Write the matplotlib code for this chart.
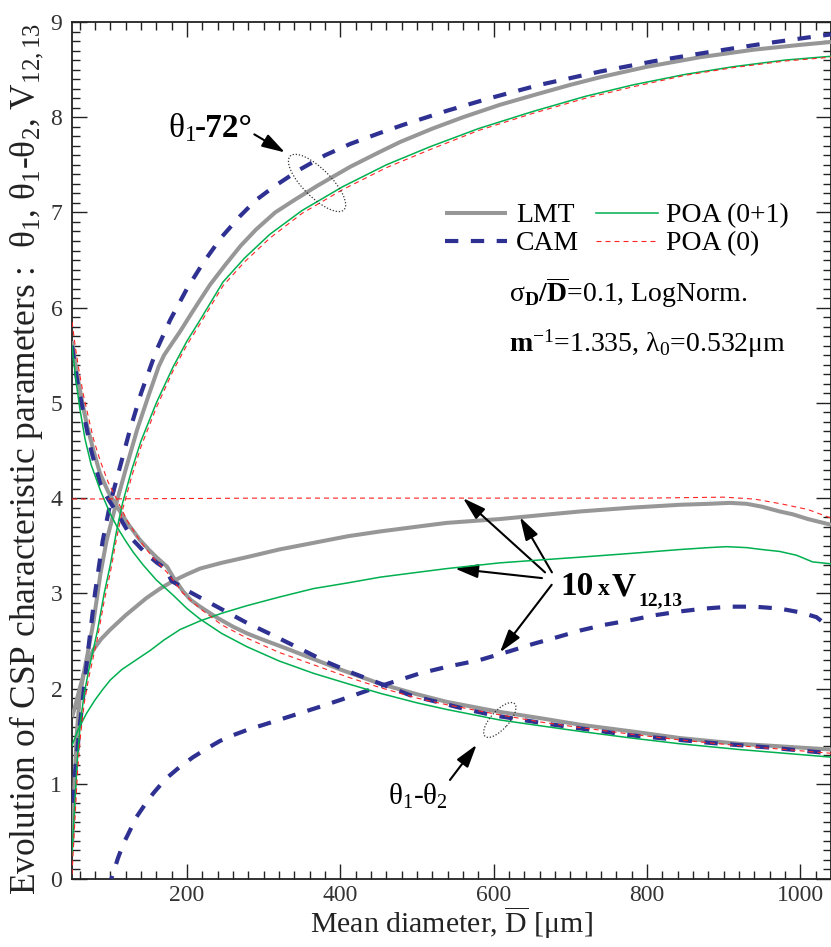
import numpy as np
import matplotlib
matplotlib.use('Agg')
import matplotlib.pyplot as plt
from matplotlib.patches import Ellipse
from matplotlib.transforms import IdentityTransform
from matplotlib.ticker import MultipleLocator

plt.rcParams['font.family'] = ['Liberation Serif', 'DejaVu Serif']
plt.rcParams['mathtext.fontset'] = 'custom'
plt.rcParams['mathtext.rm'] = 'Liberation Serif'
plt.rcParams['mathtext.it'] = 'Liberation Serif:italic'
plt.rcParams['mathtext.bf'] = 'Liberation Serif:bold'
plt.rcParams['mathtext.default'] = 'regular'

# ---------------- data ----------------
# theta_1 - 72 deg
lmt_t1_x = [50, 53, 56, 60, 65, 70, 78, 87, 95, 103, 109, 120, 135, 150, 163, 170, 180, 191, 205, 217, 230, 250, 270, 290, 315, 340, 370, 413, 450, 478, 520, 560, 608, 660, 700, 739, 800, 869, 940, 1000, 1040]
lmt_t1_y = [0.35, 0.95, 1.5, 1.9, 2.15, 2.35, 2.7, 3.2, 3.55, 3.8, 3.98, 4.3, 4.72, 5.08, 5.38, 5.5, 5.62, 5.75, 5.93, 6.08, 6.24, 6.45, 6.65, 6.82, 7.0, 7.13, 7.28, 7.48, 7.63, 7.74, 7.88, 8.0, 8.13, 8.25, 8.34, 8.42, 8.53, 8.63, 8.71, 8.76, 8.79]
cam_t1_x = [50, 55, 60, 65, 71, 80, 90, 100, 110, 125, 140, 160, 178, 200, 221, 245, 269, 290, 315, 347, 380, 413, 450, 482, 540, 595, 660, 739, 810, 878, 950, 1021, 1040]
cam_t1_y = [0.8, 1.2, 1.6, 1.95, 2.4, 3.0, 3.55, 3.95, 4.25, 4.7, 5.1, 5.55, 5.87, 6.2, 6.47, 6.74, 6.96, 7.13, 7.28, 7.45, 7.6, 7.72, 7.83, 7.92, 8.07, 8.2, 8.34, 8.48, 8.59, 8.68, 8.77, 8.85, 8.87]
poa1_t1_x = [50, 53, 57, 61, 66, 72, 83, 92, 100, 108, 116, 128, 140, 160, 182, 200, 217, 247, 275, 308, 350, 403, 460, 517, 580, 651, 720, 782, 850, 912, 980, 1040]
poa1_t1_y = [0.25, 0.7, 1.25, 1.65, 1.95, 2.2, 2.6, 3.0, 3.3, 3.65, 3.95, 4.3, 4.6, 5.0, 5.38, 5.65, 5.87, 6.27, 6.52, 6.77, 7.02, 7.27, 7.5, 7.69, 7.88, 8.06, 8.22, 8.34, 8.45, 8.53, 8.6, 8.64]
poa0_t1_x = [50, 53, 57, 61, 66, 72, 83, 92, 100, 108, 116, 128, 140, 160, 182, 200, 217, 247, 275, 308, 350, 403, 460, 517, 580, 651, 720, 782, 850, 912, 980, 1040]
poa0_t1_y = [0.05, 0.5, 1.1, 1.5, 1.85, 2.12, 2.52, 2.92, 3.22, 3.57, 3.88, 4.23, 4.54, 4.95, 5.34, 5.61, 5.83, 6.23, 6.48, 6.73, 6.99, 7.24, 7.47, 7.66, 7.86, 8.04, 8.2, 8.32, 8.44, 8.52, 8.59, 8.63]

# theta_1 - theta_2
lmt_dt_x = [50, 55, 60, 65, 70, 78, 86.5, 97, 108.7, 123, 138.7, 150, 160, 167, 174, 182, 195, 205, 217, 240, 260, 278, 300, 330, 365, 400, 452, 500, 539, 604, 660, 713, 780, 843, 920, 980, 1040]
lmt_dt_y = [5.65, 5.38, 5.15, 4.94, 4.75, 4.5, 4.26, 4.07, 3.91, 3.73, 3.56, 3.46, 3.38, 3.33, 3.28, 3.17, 3.02, 2.93, 2.86, 2.74, 2.65, 2.58, 2.51, 2.42, 2.31, 2.2, 2.05, 1.94, 1.86, 1.76, 1.69, 1.62, 1.55, 1.48, 1.42, 1.39, 1.36]
cam_dt_x = [50, 57, 64, 75, 86.5, 95, 103.5, 115, 129.6, 145, 161, 172, 180, 190, 200, 239, 278, 312, 347, 382, 417, 456, 491, 526, 560, 599, 669, 778, 882, 960, 1026, 1040]
cam_dt_y = [5.6, 5.22, 4.93, 4.5, 4.16, 4.02, 3.91, 3.76, 3.56, 3.43, 3.32, 3.26, 3.13, 3.08, 3.03, 2.86, 2.69, 2.56, 2.42, 2.28, 2.16, 2.04, 1.93, 1.86, 1.79, 1.72, 1.63, 1.51, 1.43, 1.38, 1.33, 1.32]
poa1_dt_x = [50, 55, 60, 67, 75, 87, 99.6, 110, 120, 130, 142.6, 160, 182, 200, 217, 245, 278, 320, 365, 410, 452, 500, 539, 608, 660, 713, 780, 843, 920, 980, 1040]
poa1_dt_y = [5.6, 5.25, 4.95, 4.62, 4.35, 4.08, 3.84, 3.68, 3.55, 3.43, 3.3, 3.14, 2.98, 2.84, 2.73, 2.58, 2.44, 2.29, 2.16, 2.05, 1.95, 1.85, 1.78, 1.67, 1.61, 1.55, 1.48, 1.42, 1.36, 1.32, 1.28]
poa0_dt_x = [50, 55, 60, 65, 70, 78, 86.5, 97, 108.7, 123, 138.7, 155, 174, 195, 217, 245, 278, 320, 365, 410, 452, 500, 539, 604, 660, 713, 780, 843, 920, 980, 1040]
poa0_dt_y = [5.85, 5.55, 5.3, 5.08, 4.9, 4.62, 4.4, 4.17, 3.98, 3.75, 3.55, 3.38, 3.22, 3.0, 2.84, 2.67, 2.53, 2.38, 2.25, 2.12, 2.01, 1.9, 1.83, 1.73, 1.65, 1.59, 1.52, 1.46, 1.4, 1.36, 1.32]

# 10 x V12,13
lmt_v_x = [50, 54, 60, 66, 72, 78, 88, 100, 120, 147, 165, 182, 200, 217, 245, 278, 320, 365, 410, 452, 500, 539, 608, 660, 713, 780, 843, 880, 908, 930, 950, 973, 990, 1010, 1040]
lmt_v_y = [1.7, 1.81, 2.0, 2.17, 2.3, 2.41, 2.52, 2.62, 2.77, 2.95, 3.05, 3.13, 3.2, 3.26, 3.32, 3.38, 3.46, 3.53, 3.6, 3.65, 3.7, 3.74, 3.78, 3.82, 3.86, 3.9, 3.93, 3.94, 3.95, 3.94, 3.91, 3.86, 3.83, 3.78, 3.72]
cam_v_x = [97, 102, 110, 117, 125, 134, 145, 156, 172, 191, 208, 226, 243, 260, 280, 300, 339, 370, 400, 450, 504, 540, 582, 620, 652, 683, 713, 745, 780, 810, 843, 875, 908, 940, 973, 1000, 1021, 1040]
cam_v_y = [-0.1, 0.02, 0.22, 0.37, 0.5, 0.65, 0.78, 0.9, 1.05, 1.18, 1.28, 1.37, 1.45, 1.51, 1.57, 1.62, 1.72, 1.8, 1.88, 2.02, 2.16, 2.23, 2.30, 2.39, 2.47, 2.54, 2.61, 2.67, 2.72, 2.77, 2.81, 2.84, 2.86, 2.86, 2.84, 2.80, 2.75, 2.63]
poa1_v_x = [50, 58, 69, 80, 90, 100, 115, 128, 139, 152, 170, 191, 217, 245, 278, 320, 365, 410, 452, 500, 539, 608, 660, 713, 780, 843, 880, 904, 930, 950, 973, 995, 1016, 1040]
poa1_v_y = [1.4, 1.57, 1.74, 1.88, 1.99, 2.09, 2.2, 2.27, 2.33, 2.4, 2.51, 2.62, 2.71, 2.79, 2.87, 2.96, 3.05, 3.11, 3.17, 3.22, 3.26, 3.32, 3.35, 3.38, 3.42, 3.46, 3.48, 3.49, 3.48, 3.46, 3.44, 3.4, 3.33, 3.31]
poa0_v_x = [50, 300, 600, 800, 900, 940, 975, 1010, 1040]
poa0_v_y = [3.99, 4.0, 4.0, 4.0, 4.01, 3.99, 3.94, 3.88, 3.79]

legend_labels = ['LMT', 'CAM', 'POA (0+1)', 'POA (0)']

# ---------------- styles ----------------
C_GRAY = '#979797'
C_BLUE = '#2e3192'
C_GREEN = '#00b050'
C_RED = '#ff2424'

fig = plt.figure(figsize=(8.31, 9.47), dpi=100)
ax = fig.add_axes([72 / 831, 1 - 879 / 947, (831 - 72) / 831, (879 - 22) / 947])

sty_lmt = dict(color=C_GRAY, lw=2.9, solid_capstyle='butt', solid_joinstyle='round', zorder=3)
sty_cam = dict(color=C_BLUE, lw=3.0, dashes=(3.2, 3.0), zorder=4)
sty_p1 = dict(color=C_GREEN, lw=1.1, zorder=5)
sty_p0 = dict(color=C_RED, lw=0.8, dashes=(4.5, 3.6), zorder=6)

l_lmt, = ax.plot(lmt_t1_x, lmt_t1_y, **sty_lmt)
ax.plot(lmt_dt_x, lmt_dt_y, **sty_lmt)
ax.plot(lmt_v_x, lmt_v_y, **sty_lmt)
l_cam, = ax.plot(cam_t1_x, cam_t1_y, **sty_cam)
ax.plot(cam_dt_x, cam_dt_y, **sty_cam)
ax.plot(cam_v_x, cam_v_y, **sty_cam)
l_p1, = ax.plot(poa1_t1_x, poa1_t1_y, **sty_p1)
ax.plot(poa1_dt_x, poa1_dt_y, **sty_p1)
ax.plot(poa1_v_x, poa1_v_y, **sty_p1)
l_p0, = ax.plot(poa0_t1_x, poa0_t1_y, **sty_p0)
ax.plot(poa0_dt_x, poa0_dt_y, **sty_p0)
ax.plot(poa0_v_x, poa0_v_y, **sty_p0)

ax.set_xlim(50, 1040)
ax.set_ylim(0, 9)

ax.xaxis.set_major_locator(MultipleLocator(200))
ax.xaxis.set_minor_locator(MultipleLocator(20))
ax.yaxis.set_major_locator(MultipleLocator(1))
ax.yaxis.set_minor_locator(MultipleLocator(0.1))
ax.tick_params(which='both', direction='in', top=True, right=True, width=1.0, color='#222222')
ax.tick_params(which='major', length=11)
ax.tick_params(which='minor', length=5.5)
ax.tick_params(axis='x', labelsize=17, pad=4, labelcolor='#333333')
ax.tick_params(axis='y', labelsize=17, pad=7, labelcolor='#333333')
for s in ax.spines.values():
    s.set_linewidth(1.3)
    s.set_color('#222222')

ax.set_xlabel(r'Mean diameter, $\overline{\mathrm{D}}$ [μm]', fontsize=21.5, color='#222222', labelpad=-1)
ax.set_ylabel(r'Evolution of CSP characteristic parameters :  $θ_1$, $θ_1$-$θ_2$, V$_{12,13}$',
              fontsize=25.5, color='#222222')
ax.yaxis.set_label_coords(-0.036, 0.49)

leg = ax.legend([l_lmt, l_cam, l_p1, l_p0], legend_labels, ncol=2, loc='upper left',
                bbox_to_anchor=(0.4914, 0.789), frameon=False, fontsize=20,
                handlelength=2.25, handletextpad=0.3, columnspacing=0.6,
                labelspacing=0.1, borderpad=0, borderaxespad=0)

ax.text(620, 6.06, r'$σ_\mathbf{D}\mathbf{/\overline{D}}$=0.1, LogNorm.', fontsize=20, va='baseline', ha='left')
ax.text(620, 5.54, r'$\mathbf{m}^{-1}$=1.335, $λ_0$=0.532μm', fontsize=20, va='baseline', ha='left')

# annotations
arrow = dict(arrowstyle='-|>,head_length=1.0,head_width=0.3', mutation_scale=14, lw=1.5,
             color='black', shrinkA=0, shrinkB=0)
ax.text(175.6, 7.79, r'$θ_1$', fontsize=24, va='baseline', ha='left')
ax.text(210, 7.79, '-72°', fontsize=24, fontweight='bold', va='baseline', ha='left')
ax.annotate('', xy=(327.8, 7.63), xytext=(287.8, 7.82), arrowprops=arrow)

ax.text(462, 0.78, r'$θ_1$-$θ_2$', fontsize=21, va='baseline', ha='left')
ax.annotate('', xy=(577.8, 1.41), xytext=(543, 1.04), arrowprops=arrow)

ax.text(686.5, 2.98, '10', fontsize=24, fontweight='bold', va='baseline', ha='left')
ax.text(735.5, 2.98, 'x', fontsize=17, fontweight='bold', va='baseline', ha='left')
ax.text(754, 2.98, 'V', fontsize=24, fontweight='bold', va='baseline', ha='left')
ax.text(789, 2.87, '12,13', fontsize=14, fontweight='bold', va='baseline', ha='left')
ax.annotate('', xy=(560, 4.00), xytext=(667, 3.22), arrowprops=arrow)
ax.annotate('', xy=(634.3, 3.80), xytext=(676, 3.22), arrowprops=arrow)
ax.annotate('', xy=(549.5, 3.26), xytext=(663, 3.16), arrowprops=arrow)
ax.annotate('', xy=(608.2, 2.38), xytext=(675.7, 3.09), arrowprops=arrow)

# dotted ellipses (sizes in pixels)
c1 = ax.transData.transform((369.6, 7.31))
ax.add_patch(Ellipse(c1, 76, 28, angle=-45, transform=IdentityTransform(), fill=False,
                     ls=(0, (1, 1.5)), lw=0.9, ec='#333333', zorder=7))
c2 = ax.transData.transform((608, 1.67))
ax.add_patch(Ellipse(c2, 44, 18, angle=48, transform=IdentityTransform(), fill=False,
                     ls=(0, (1, 1.5)), lw=0.9, ec='#333333', zorder=7))

fig.savefig('out.png', dpi=100)
